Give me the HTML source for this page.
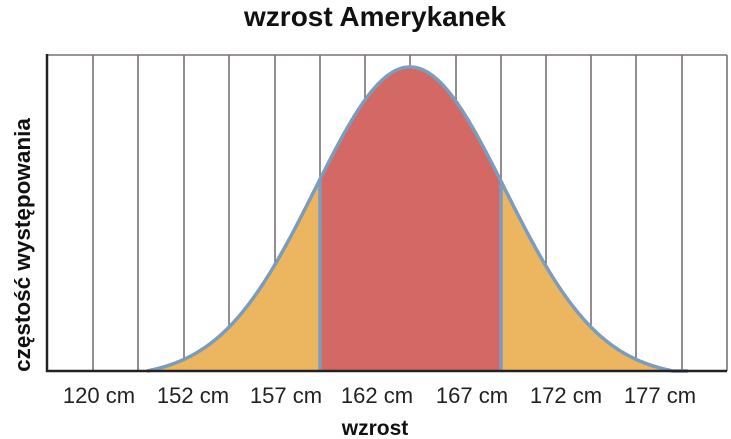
<!DOCTYPE html>
<html><head><meta charset="utf-8"><style>
html,body{margin:0;padding:0;background:#fff;}
svg{display:block;font-family:"Liberation Sans",Arial,sans-serif;}
</style></head><body>
<svg id="s" width="731" height="439" viewBox="0 0 731 439" xmlns="http://www.w3.org/2000/svg">
<text x="375" y="26" font-size="28" font-weight="bold" text-anchor="middle" fill="#111">wzrost Amerykanek</text>
<g stroke="#7a7278" stroke-width="1.6">
<line x1="47" y1="55" x2="727" y2="55"/>
<line x1="727" y1="55" x2="727" y2="371"/>
<line x1="93" y1="55" x2="93" y2="371"/>
<line x1="138" y1="55" x2="138" y2="371"/>
<line x1="184" y1="55" x2="184" y2="371"/>
<line x1="229" y1="55" x2="229" y2="371"/>
<line x1="275" y1="55" x2="275" y2="371"/>
<line x1="320" y1="55" x2="320" y2="371"/>
<line x1="365" y1="55" x2="365" y2="371"/>
<line x1="410" y1="55" x2="410" y2="371"/>
<line x1="456" y1="55" x2="456" y2="371"/>
<line x1="501" y1="55" x2="501" y2="371"/>
<line x1="546" y1="55" x2="546" y2="371"/>
<line x1="591" y1="55" x2="591" y2="371"/>
<line x1="636" y1="55" x2="636" y2="371"/>
<line x1="682" y1="55" x2="682" y2="371"/>
</g>
<path id="orange" fill="#ecb55f"/>
<path id="red" fill="#d36864"/>
<line x1="320" y1="190" x2="320" y2="371" id="l1" stroke="#7b9cbb" stroke-width="3.5"/>
<line x1="501" y1="190" x2="501" y2="371" id="l2" stroke="#7b9cbb" stroke-width="3.5"/>
<path id="curve" fill="none" stroke="#7b9cbb" stroke-width="3.5"/>
<line x1="47" y1="54" x2="47" y2="372" stroke="#222" stroke-width="2.5"/>
<line x1="46" y1="371" x2="727" y2="371" stroke="#222" stroke-width="2.5"/>
<g font-size="22" fill="#222" text-anchor="middle">
<text x="99" y="403">120 cm</text>
<text x="193" y="403">152 cm</text>
<text x="286" y="403">157 cm</text>
<text x="377" y="403">162 cm</text>
<text x="472" y="403">167 cm</text>
<text x="566" y="403">172 cm</text>
<text x="660" y="403">177 cm</text>
</g>
<text x="375" y="435" font-size="21" font-weight="bold" text-anchor="middle" fill="#111">wzrost</text>
<text transform="translate(30,245) rotate(-90)" font-size="22.5" font-weight="bold" text-anchor="middle" fill="#111">częstość występowania</text>
<script>
(function(){
var c=410,base=371,s=95,A=310.7,o=6.7;
function y(x){var d=x-c;var v=A*Math.exp(-d*d/(2*s*s))-o;if(v<0)v=0;return base-v;}
var pts=[];for(var x=147;x<=688;x+=1)pts.push([x,y(x)]);
var d="M"+pts.map(function(p){return p[0]+","+p[1].toFixed(1)}).join(" L");
document.getElementById("curve").setAttribute("d",d);
document.getElementById("orange").setAttribute("d",d+" L688,371 L147,371 Z");
var r=[];for(var x=320;x<=501;x+=1)r.push(x+","+y(x).toFixed(1));
document.getElementById("red").setAttribute("d","M320,371 L"+r.join(" L")+" L501,371 Z");
document.getElementById("l1").setAttribute("y1",y(320));
document.getElementById("l2").setAttribute("y1",y(501));
})();
</script>
</svg>
</body></html>
